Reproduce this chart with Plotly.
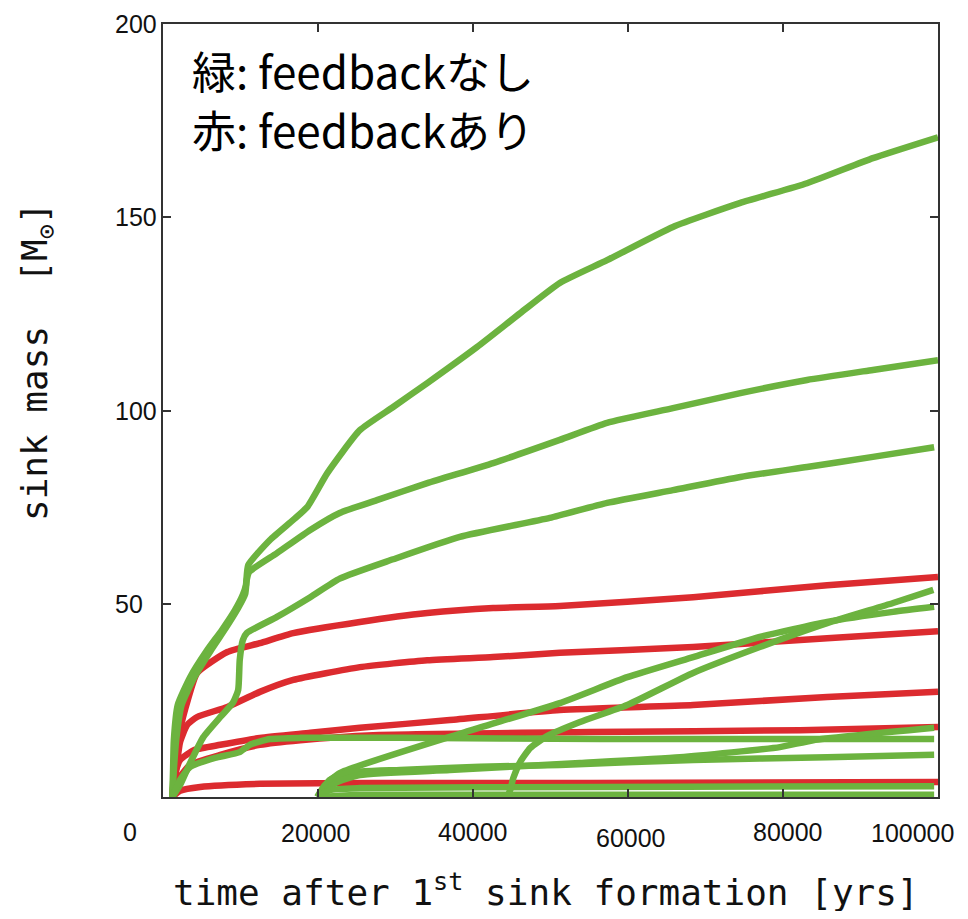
import plotly.graph_objects as go

# --- data: time after 1st sink formation [yrs] vs sink mass [Msun] ---
# green: no feedback
g1_t = [1200, 1300, 1400, 1900, 3500, 5700, 7600, 9300, 10300, 10700, 11000, 13800, 16800, 18600,
        21200, 25400, 29700, 34100, 40500, 46100, 51200, 57300, 65800, 74500, 83100, 91600, 100000]
g1_m = [0, 7, 14.7, 23.8, 31, 38, 43.2, 48.4, 52.3, 54.8, 60, 66.5, 71.7, 75,
        83.8, 94.9, 100.9, 107.1, 116.4, 125.2, 133, 138.9, 147.5, 153.7, 158.8, 165.3, 170.7]
g2_t = [1200, 1400, 1700, 2400, 4000, 6200, 8100, 9700, 10600, 10800, 11100, 14700, 19000,
        22800, 27600, 34100, 42600, 51200, 57300, 65800, 74500, 83100, 91600, 100000]
g2_m = [0, 7, 14.7, 23.8, 30.8, 38, 43.7, 48.9, 52.5, 56.1, 58.2, 63.1, 69.1,
        73.5, 76.8, 81.2, 86.4, 92.4, 96.8, 100.6, 104.5, 107.9, 110.5, 113.0]
g3_t = [1200, 2200, 3500, 5200, 7400, 9000, 9700, 9900, 10300, 10800, 14700, 19000, 22800,
        29700, 38300, 49900, 57300, 65800, 74500, 83100, 91600, 99500]
g3_m = [0, 3.1, 8.8, 15.5, 20.7, 24.3, 27.7, 35.4, 40.6, 42.4, 46.6, 51.7, 56.5,
        61.5, 67.3, 72.2, 76.1, 79.4, 82.8, 85.4, 88.0, 90.5]
g4_t = [1200, 2200, 3500, 6700, 9900, 11200, 13800, 17700, 30600, 56400, 82200, 99500]
g4_m = [0, 4.4, 7.8, 10.1, 11.6, 13.5, 15.0, 15.3, 15.3, 15.0, 15.0, 15.0]
g5_t = [19900, 20900, 22800, 39000, 51200, 59900, 68400, 77000, 85700, 94200, 99500]
g5_m = [0, 3.1, 6.2, 16.8, 24.3, 31.0, 36.2, 41.4, 45.3, 47.9, 49.2]
g6_t = [20000, 21500, 23500, 30600, 40900, 51200, 68400, 85700, 99500]
g6_m = [0, 4.4, 6.2, 7.0, 7.8, 8.3, 9.6, 10.3, 10.9]
g7_t = [20300, 22200, 25400, 37000, 53800, 66700, 79600, 83900, 99500]
g7_m = [0, 3.6, 5.7, 7.0, 8.8, 10.3, 12.9, 14.7, 17.9]
g8_t = [20000, 21500, 25400, 56400, 99500]
g8_m = [0, 1.8, 2.3, 2.6, 2.8]
g9_t = [44400, 44800, 45200, 46100, 47400, 49600, 53800, 59900, 68400, 77000, 85700, 94200, 99400]
g9_m = [0, 1.8, 4.9, 9.1, 12.7, 15.8, 19.4, 23.8, 32.1, 38.8, 45.0, 50.2, 53.6]
g10_t = [20300, 25400, 99500]
g10_m = [0, 0.6, 0.6]

# red: with feedback
r1_t = [1200, 1500, 2200, 3200, 4400, 8300, 12500, 16800, 25400, 34100, 42600, 51200, 68400, 85700, 100000]
r1_m = [0, 7, 17.3, 25.1, 32.1, 37.5, 39.8, 42.4, 45.3, 47.6, 48.9, 49.4, 51.7, 54.8, 56.9]
r2_t = [1200, 1700, 2200, 3100, 4400, 8300, 12500, 16800, 25400, 34100, 42600, 51200, 68400, 85700, 100000]
r2_m = [0, 7, 14.2, 18.6, 20.7, 23.3, 27.2, 30.3, 33.6, 35.4, 36.2, 37.3, 38.8, 41.1, 42.9]
r3_t = [1200, 1500, 2200, 4100, 7400, 12500, 19000, 25400, 37000, 51200, 68400, 85700, 100000]
r3_m = [0, 5.7, 9.6, 12.2, 13.5, 15.3, 16.6, 17.9, 19.9, 22.5, 23.8, 25.9, 27.2]
r4_t = [1200, 1900, 3500, 7400, 12500, 17700, 27100, 55100, 82200, 100000]
r4_m = [0, 4.4, 8.3, 10.9, 13.5, 14.7, 16.0, 16.8, 17.3, 18.1]
r5_t = [1200, 2200, 4800, 12500, 27100, 55100, 100000]
r5_m = [0, 1.6, 2.6, 3.4, 3.6, 3.6, 3.9]

green_runs = [(g1_t, g1_m), (g2_t, g2_m), (g3_t, g3_m), (g4_t, g4_m), (g5_t, g5_m),
              (g6_t, g6_m), (g7_t, g7_m), (g8_t, g8_m), (g9_t, g9_m), (g10_t, g10_m)]
red_runs = [(r1_t, r1_m), (r2_t, r2_m), (r3_t, r3_m), (r4_t, r4_m), (r5_t, r5_m)]

x_tick_vals = [0, 20000, 40000, 60000, 80000, 100000]
x_tick_text = ["0", "20000", "40000", "60000", "80000", "100000"]
y_tick_vals = [50, 100, 150, 200]
y_tick_text = ["50", "100", "150", "200"]

GREEN = "#6cb33f"
RED = "#dc2b2f"
TICK_FONT = dict(family="Liberation Sans Narrow, Arial Narrow, Liberation Sans, sans-serif", size=25, color="#111111")
MONO_FONT = dict(family="DejaVu Sans Mono, monospace", size=36, color="#111111")

# page has an 8px body margin, so the figure is 16px smaller than the window
W, H = 952, 903
# plot area in figure pixels
L, R, T, B = 155, 930, 16, 789


def px_x(px):
    return (px - L) / (R - L)


def px_y(py):
    return (B - py) / (B - T)


fig = go.Figure()

for t, m in red_runs:
    fig.add_trace(go.Scatter(x=t, y=m, mode="lines",
                             line=dict(color=RED, width=6.5, shape="spline", smoothing=0.5),
                             showlegend=False, hoverinfo="skip"))
for t, m in green_runs:
    fig.add_trace(go.Scatter(x=t, y=m, mode="lines",
                             line=dict(color=GREEN, width=6.5, shape="spline", smoothing=0.5),
                             showlegend=False, hoverinfo="skip"))

annotations = []

# tick labels (hand placed in the original figure)
x_shift = [-33, -2, 0, 3, 5, -26]
y_shift = [-35, -36, -35, -41, -35, -36]
for v, txt, dx, dy in zip(x_tick_vals, x_tick_text, x_shift, y_shift):
    annotations.append(dict(x=v, y=0, xref="x", yref="y", text=txt, showarrow=False,
                            xanchor="center", yanchor="middle", xshift=dx, yshift=dy, font=TICK_FONT))
for v, txt in zip(y_tick_vals, y_tick_text):
    annotations.append(dict(x=0, y=v, xref="x", yref="y", text=txt, showarrow=False,
                            xanchor="left", yanchor="middle", xshift=-50, font=TICK_FONT))

# axis titles
annotations.append(dict(x=px_x(538), y=px_y(882), xref="paper", yref="paper",
                        text="time after 1<sup>st</sup> sink formation [yrs]", showarrow=False,
                        xanchor="center", yanchor="middle", font=MONO_FONT))
annotations.append(dict(x=px_x(29), y=px_y(354), xref="paper", yref="paper",
                        text="sink mass\u00a0\u00a0[M<sub>\u2299</sub>]", showarrow=False, textangle=-90,
                        xanchor="center", yanchor="middle", font=MONO_FONT))

# colour key
key_font = dict(family="Noto Sans CJK JP, sans-serif", size=44, color="#000000")
annotations.append(dict(x=px_x(182), y=px_y(62), xref="paper", yref="paper",
                        text="緑: feedbackなし", showarrow=False,
                        xanchor="left", yanchor="middle", font=key_font))
annotations.append(dict(x=px_x(182), y=px_y(121), xref="paper", yref="paper",
                        text="赤: feedbackあり", showarrow=False,
                        xanchor="left", yanchor="middle", font=key_font))

fig.update_layout(
    width=W,
    height=H,
    margin=dict(l=L, r=W - R, t=T, b=H - B),
    plot_bgcolor="#ffffff",
    paper_bgcolor="#ffffff",
    showlegend=False,
    annotations=annotations,
)
fig.update_xaxes(
    range=[0, 100000],
    showgrid=False,
    zeroline=False,
    showline=True,
    linecolor="#333333",
    linewidth=2,
    mirror="ticks",
    ticks="inside",
    ticklen=8,
    tickwidth=1.5,
    tickcolor="#333333",
    tickvals=[20000, 40000, 60000, 80000],
    showticklabels=False,
)
fig.update_yaxes(
    range=[0, 200],
    showgrid=False,
    zeroline=False,
    showline=True,
    linecolor="#333333",
    linewidth=2,
    mirror="ticks",
    ticks="inside",
    ticklen=8,
    tickwidth=1.5,
    tickcolor="#333333",
    tickvals=[50, 100, 150],
    showticklabels=False,
)

fig.write_html("out.html")
